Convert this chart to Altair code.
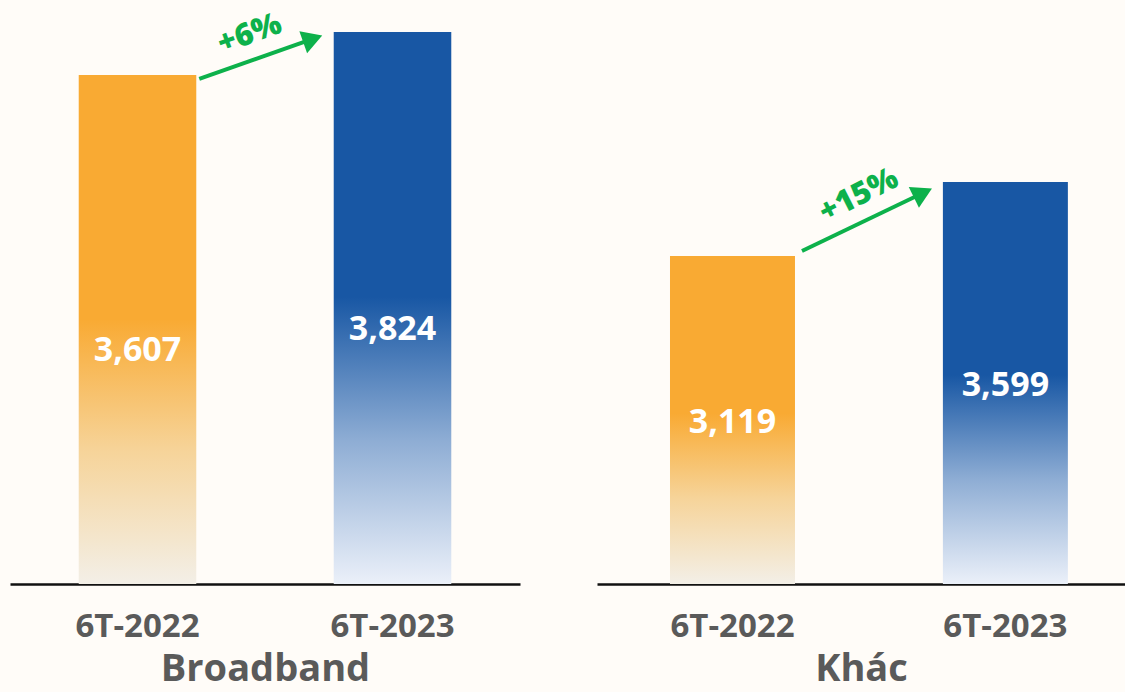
import altair as alt
import pandas as pd

# ---- data ----
periods = ["6T-2022", "6T-2023"]
groups = ["Broadband", "Khác"]
broadband_values = [3607, 3824]
khac_values = [3119, 3599]

# value axis ranges (bars do not start at zero)
y_domains = {"Broadband": [1038, 3985], "Khác": [990, 4780]}

ORANGE = "#f9aa33"
BLUE = "#1857a4"
GREEN = "#0db14b"
GRAY = "#5a5a5a"
FONT = "Open Sans"


def grad(top, mid, bottom, solid=0.48):
    return alt.Gradient(
        gradient="linear", x1=0, x2=0, y1=0, y2=1,
        stops=[
            alt.GradientStop(offset=0, color=top),
            alt.GradientStop(offset=solid, color=top),
            alt.GradientStop(offset=(solid + 1) / 2, color=mid),
            alt.GradientStop(offset=1, color=bottom),
        ],
    )


def panel(group, values, width, pad_inner, pad_outer, x_align, label_dy, arrow):
    dmin, dmax = y_domains[group]
    df = pd.DataFrame({"period": periods, "value": values})
    df["label"] = df["value"].map(lambda v: f"{v:,}")
    df["mid"] = (df["value"] + dmin) / 2

    arr = pd.DataFrame({"start": [periods[0]], "end": [periods[1]],
                        "v0": [values[0]], "v1": [values[1]]})
    arr["vm"] = (arr["v0"] + arr["v1"]) / 2
    arr["pct"] = "+" + ((arr["v1"] / arr["v0"] - 1) * 100).round().astype(int).astype(str) + "%"

    xs = alt.Scale(domain=periods, paddingInner=pad_inner, paddingOuter=pad_outer, align=x_align)
    ys = alt.Scale(domain=[dmin, dmax], clamp=True, zero=False, nice=False)

    base = alt.Chart(df)
    x = alt.X("period:N", scale=xs, title=group, sort=periods)

    bar_o = base.transform_filter(alt.datum.period == periods[0]).mark_bar(
        color=grad(ORANGE, "#f6d49a", "#f3efe7")
    ).encode(x=x, y=alt.Y("value:Q", scale=ys, axis=None))
    bar_b = base.transform_filter(alt.datum.period == periods[1]).mark_bar(
        color=grad(BLUE, "#8eadd4", "#ebf0f9")
    ).encode(x=x, y=alt.Y("value:Q", scale=ys, axis=None))

    labels = base.mark_text(
        color="white", font=FONT, fontWeight="bold", fontSize=34,
        baseline="middle", align="center", yOffset=label_dy,
    ).encode(x=x, y=alt.Y("mid:Q", scale=ys, axis=None), text="label:N")

    ac = alt.Chart(arr)
    rule = ac.mark_rule(
        color=GREEN, strokeWidth=4,
        xOffset=arrow["x0"], yOffset=arrow["y0"], x2Offset=arrow["x1"], y2Offset=arrow["y1"],
    ).encode(
        x=alt.X("start:N", scale=xs, title=group, bandPosition=1),
        x2=alt.X2("end", bandPosition=0),
        y=alt.Y("v0:Q", scale=ys, axis=None),
        y2=alt.Y2("v1"),
    )
    head = ac.mark_point(
        shape="triangle-right", filled=True, size=540, opacity=1, color=GREEN,
        angle=arrow["angle"], xOffset=arrow["x1"], yOffset=arrow["y1"],
    ).encode(
        x=alt.X("end:N", scale=xs, title=group, bandPosition=0),
        y=alt.Y("v1:Q", scale=ys, axis=None),
    )
    pct = ac.mark_text(
        color=GREEN, font=FONT, fontWeight=800, fontSize=31,
        align="center", baseline="middle", angle=arrow["tangle"],
        xOffset=-84, yOffset=arrow["ty"],
    ).encode(
        x=alt.X("end:N", scale=xs, title=group, bandPosition=0),
        y=alt.Y("vm:Q", scale=ys, axis=None),
        text="pct:N",
    )
    return alt.layer(bar_o, bar_b, labels, rule, head, pct).properties(width=width, height=584)


left = panel("Broadband", broadband_values, 510, 0.539, 0.2695, 0.5, 22,
             {"x0": 3, "y0": 4, "x1": -21, "y1": 7, "angle": 340.6, "tangle": 340, "ty": -19})
right = panel("Khác", khac_values, 528, 0.542, 0.2384, 0.561, 3,
              {"x0": 7, "y0": -5, "x1": -20, "y1": 11, "angle": 334, "tangle": 333, "ty": -23})

chart = alt.hconcat(left, right, spacing=77).properties(
    padding={"left": 10, "top": 0, "right": 0, "bottom": 4},
    background="#fffcf8",
).configure_view(stroke=None).configure_axisX(
    domainColor="#111111", domainWidth=2.5, ticks=False, tickSize=0, grid=False,
    labelFont=FONT, labelFontSize=33, labelFontWeight="bold", labelColor=GRAY,
    labelAngle=0, labelPadding=26,
    titleFont=FONT, titleFontSize=38, titleFontWeight="bold", titleColor=GRAY,
    titlePadding=7,
)

chart.save("out.html", embed_options={"renderer": "svg", "actions": False})
